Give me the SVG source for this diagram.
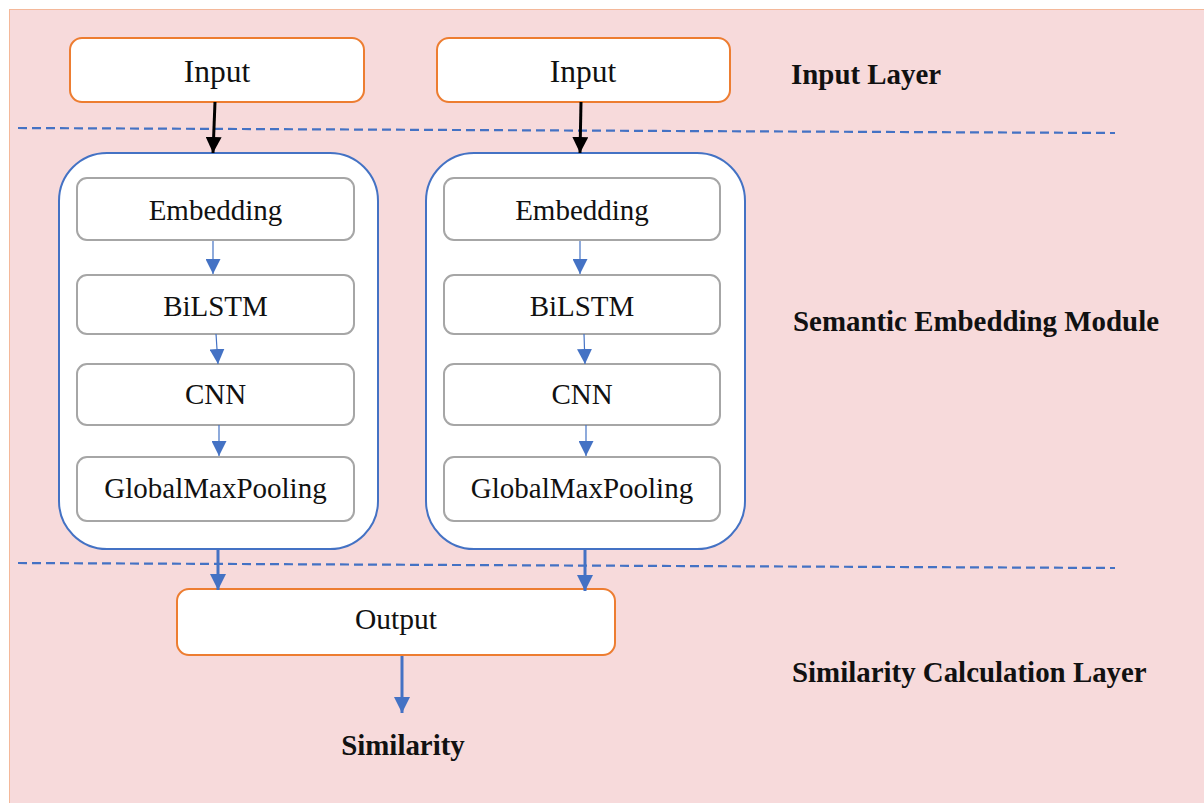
<svg xmlns="http://www.w3.org/2000/svg" width="1204" height="803" viewBox="0 0 1204 803">
<defs>
<style>
.bg{fill:#F7DADB;stroke:#F4B89A;stroke-width:1}
.io{fill:#fff;stroke:#ED7D31;stroke-width:2}
.mod{fill:#fff;stroke:#4472C4;stroke-width:2}
.inner{fill:#fff;stroke:#A6A6A6;stroke-width:2}
.dash{fill:none;stroke:#4472C4;stroke-width:2.2;stroke-dasharray:9 5}
.t{font-family:"Liberation Serif","Times New Roman",serif;fill:#111;text-anchor:middle}
.n{font-size:29px}
.b{font-family:"Liberation Serif","Times New Roman",serif;font-weight:bold;font-size:28.9px;fill:#111}
.thin{fill:none;stroke:#4472C4;stroke-width:1.2}
.thick{fill:none;stroke:#4472C4;stroke-width:3}
.black{fill:none;stroke:#000;stroke-width:3}
</style>
<marker id="ah" viewBox="0 0 10 10" refX="10" refY="5" markerUnits="userSpaceOnUse" markerWidth="15" markerHeight="15" orient="auto"><path d="M0,0 L10,5 L0,10 z" fill="#4472C4"/></marker>
<marker id="ahb" viewBox="0 0 10 10" refX="10" refY="5" markerUnits="userSpaceOnUse" markerWidth="16" markerHeight="16" orient="auto"><path d="M0,0 L10,5 L0,10 z" fill="#4472C4"/></marker>
<marker id="ahk" viewBox="0 0 10 10" refX="10" refY="5" markerUnits="userSpaceOnUse" markerWidth="16" markerHeight="16" orient="auto"><path d="M0,0 L10,5 L0,10 z" fill="#000"/></marker>
</defs>
<rect x="0" y="0" width="1204" height="803" fill="#fff"/>
<rect class="bg" x="9.5" y="9.5" width="1200" height="800"/>

<g id="dividers">
<line class="dash" x1="18" y1="128" x2="1115" y2="133"/>
<line class="dash" x1="18" y1="563" x2="1115" y2="568"/>
</g>

<g id="input-left"><rect class="io" x="70" y="38" width="294" height="64" rx="12"/><text class="t" x="217" y="82" font-size="31.5">Input</text></g>
<g id="input-right"><rect class="io" x="437" y="38" width="293" height="64" rx="12"/><text class="t" x="583" y="82" font-size="31.5">Input</text></g>

<g id="module-left">
<rect class="mod" x="59" y="153" width="319" height="396" rx="48"/>
<g id="emb-left"><rect class="inner" x="77" y="178" width="277" height="62" rx="10"/><text class="t n" x="215.5" y="220">Embedding</text></g>
<g id="bilstm-left"><rect class="inner" x="77" y="275" width="277" height="59" rx="10"/><text class="t n" x="215.5" y="316">BiLSTM</text></g>
<g id="cnn-left"><rect class="inner" x="77" y="364" width="277" height="61" rx="10"/><text class="t n" x="215.5" y="404">CNN</text></g>
<g id="gmp-left"><rect class="inner" x="77" y="457" width="277" height="64" rx="10"/><text class="t n" x="215.5" y="498">GlobalMaxPooling</text></g>
</g>

<g id="module-right">
<rect class="mod" x="426" y="153" width="319" height="396" rx="48"/>
<g id="emb-right"><rect class="inner" x="444" y="178" width="276" height="62" rx="10"/><text class="t n" x="582" y="220">Embedding</text></g>
<g id="bilstm-right"><rect class="inner" x="444" y="275" width="276" height="59" rx="10"/><text class="t n" x="582" y="316">BiLSTM</text></g>
<g id="cnn-right"><rect class="inner" x="444" y="364" width="276" height="61" rx="10"/><text class="t n" x="582" y="404">CNN</text></g>
<g id="gmp-right"><rect class="inner" x="444" y="457" width="276" height="64" rx="10"/><text class="t n" x="582" y="498">GlobalMaxPooling</text></g>
</g>

<g id="output"><rect class="io" x="177" y="589" width="438" height="66" rx="12"/><text class="t" x="396" y="629" font-size="29.5">Output</text></g>

<g id="connectors">
<line class="black" x1="215" y1="102" x2="213" y2="153" marker-end="url(#ahk)"/>
<line class="black" x1="581" y1="102" x2="580" y2="153" marker-end="url(#ahk)"/>
<line class="thin" x1="213" y1="241" x2="213" y2="274" marker-end="url(#ah)"/>
<line class="thin" x1="216" y1="334" x2="218" y2="364" marker-end="url(#ah)"/>
<line class="thin" x1="219" y1="425" x2="219" y2="456" marker-end="url(#ah)"/>
<line class="thin" x1="580" y1="241" x2="580" y2="274" marker-end="url(#ah)"/>
<line class="thin" x1="584" y1="334" x2="585" y2="364" marker-end="url(#ah)"/>
<line class="thin" x1="586" y1="425" x2="586" y2="456" marker-end="url(#ah)"/>
<line class="thick" x1="218" y1="549" x2="218" y2="590" marker-end="url(#ahb)"/>
<line class="thick" x1="585" y1="549" x2="585" y2="591" marker-end="url(#ahb)"/>
<line class="thick" x1="402" y1="656" x2="402" y2="713" marker-end="url(#ahb)"/>
</g>

<g id="labels">
<text class="b" x="791" y="84">Input Layer</text>
<text class="b" x="793" y="331">Semantic Embedding Module</text>
<text class="b" x="792" y="682">Similarity Calculation Layer</text>
<text class="b" x="403" y="755" text-anchor="middle">Similarity</text>
</g>
</svg>
